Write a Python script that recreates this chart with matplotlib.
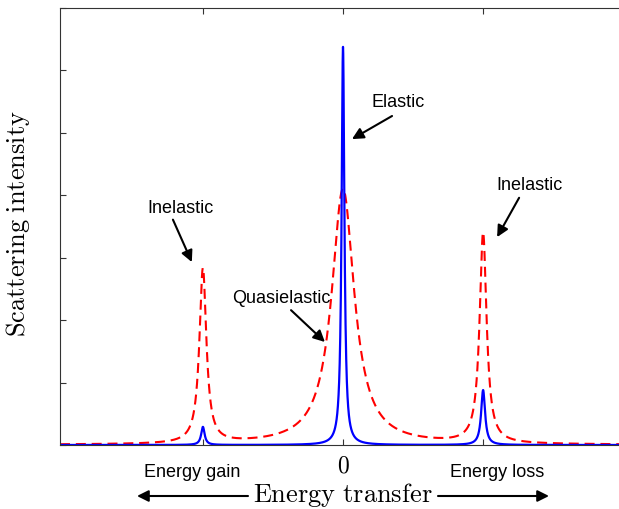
import numpy as np
import matplotlib
matplotlib.use("Agg")
import matplotlib.pyplot as plt

plt.rcParams['mathtext.fontset'] = 'cm'

# Peak parameters (centre, height, half-width)
red_centers = [0.0, -1.0, 1.0]
red_heights = [4.1, 2.8, 3.37]
red_widths = [0.098, 0.03, 0.03]

blue_centers = [0.0, -1.0, 1.0]
blue_heights = [6.38, 0.29, 0.88]
blue_widths = [0.012, 0.015, 0.017]

xticks = [-1, 0, 1]
xticklabels = ['', '0', '']
yticks = [0, 1, 2, 3, 4, 5, 6, 7]

W, H = 619, 510
fig = plt.figure(figsize=(W / 100, H / 100), dpi=100)
ax = fig.add_axes([60 / W, (H - 446) / H, (W - 60) / W, (446 - 9) / H])

x = np.linspace(-2.02, 1.97, 6001)


def lorentz_sum(xx, cs, hs, gs):
    y = np.zeros_like(xx)
    for c, h, g in zip(cs, hs, gs):
        y += h * g ** 2 / ((xx - c) ** 2 + g ** 2)
    return y


red = lorentz_sum(x, red_centers, red_heights, red_widths)
blue = lorentz_sum(x, blue_centers, blue_heights, blue_widths)

ax.plot(x, red, color='red', lw=1.5, linestyle=(0, (4.8, 2.8)))
ax.plot(x, blue, color='#0000ff', lw=1.6)

ax.set_xlim(-2.02, 1.97)
ax.set_ylim(0, 7)
ax.set_xticks(xticks)
ax.set_xticklabels(xticklabels)
ax.set_yticks(yticks)
ax.set_yticklabels([])
for lab in ax.get_xticklabels():
    lab.set_fontsize(17)
    lab.set_fontfamily('cmr10')
ax.tick_params(direction='in', length=4, width=0.8, color='#333333',
               top=True, right=False, pad=7)
ax.spines['right'].set_visible(False)
for s in ['left', 'top', 'bottom']:
    ax.spines[s].set_color('#333333')
    ax.spines[s].set_linewidth(0.8)

sans = ['Liberation Sans', 'DejaVu Sans']
arrow = dict(arrowstyle='-|>', mutation_scale=17, lw=1.5, color='black',
             shrinkA=0, shrinkB=0)


def annotate(label, txt, tail, head):
    ax.text(txt[0], txt[1], label, fontsize=13, family=sans,
            ha='center', va='center')
    ax.annotate('', xy=head, xytext=tail, arrowprops=arrow)


annotate('Elastic', (0.39, 5.5), (0.35, 5.27), (0.064, 4.9))
annotate('Inelastic', (-1.157, 3.80), (-1.214, 3.61), (-1.079, 2.93))
annotate('Quasielastic', (-0.443, 2.37), (-0.371, 2.16), (-0.129, 1.65))
annotate('Inelastic', (1.329, 4.17), (1.257, 3.96), (1.10, 3.33))


def fx(px):
    return px / W


def fy(py):
    return 1 - py / H


fig.text(fx(192), fy(473), 'Energy gain', fontsize=13, family=sans,
         ha='center', va='center')
fig.text(fx(497), fy(473), 'Energy loss', fontsize=13, family=sans,
         ha='center', va='center')
fig.text(fx(343), fy(495), r'$\mathrm{Energy\ transfer}$', fontsize=19,
         ha='center', va='center')
fig.text(fx(18), fy(224), r'$\mathrm{Scattering\ intensity}$', fontsize=19,
         ha='center', va='center', rotation=90)

farrow = dict(arrowstyle='-|>', mutation_scale=17, lw=1.5, color='black',
              shrinkA=0, shrinkB=0)
fig.add_artist(matplotlib.patches.FancyArrowPatch(
    (fx(248), fy(497)), (fx(137), fy(497)), transform=fig.transFigure, **farrow))
fig.add_artist(matplotlib.patches.FancyArrowPatch(
    (fx(438), fy(497)), (fx(549), fy(497)), transform=fig.transFigure, **farrow))

fig.savefig('out.png', dpi=100)
